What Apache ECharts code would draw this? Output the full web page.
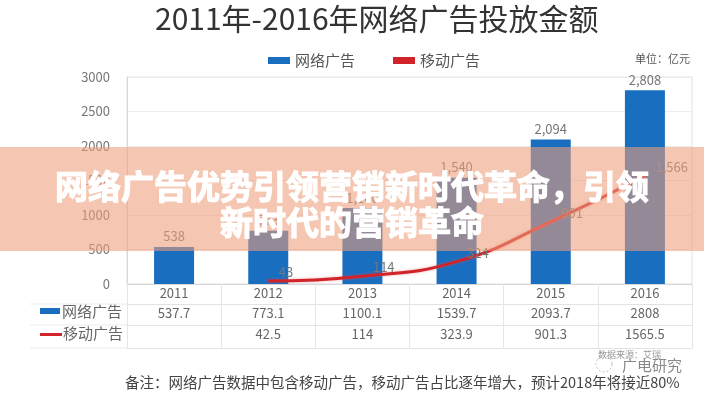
<!DOCTYPE html>
<html><head><meta charset="utf-8">
<script src="https://cdn.jsdelivr.net/npm/echarts@6/dist/echarts.min.js"></script>
<style>html,body{margin:0;padding:0;background:#fff}#c{width:704px;height:400px}</style>
</head><body><div id="c"></div>
<script>
var years = ['2011','2012','2013','2014','2015','2016'];
var webAd = [537.7, 773.1, 1100.1, 1539.7, 2093.7, 2808];
var mobileAd = [null, 42.5, 114, 323.9, 901.3, 1565.5];
var yTicks = [0, 500, 1000, 1500, 2000, 2500, 3000];
var FONT = '"Noto Sans CJK SC", "Noto Sans", sans-serif';

function fmt(v){ return Math.round(v).toLocaleString('en-US'); }
function raw(v){ return v == null ? '' : String(v); }

var chart = echarts.init(document.getElementById('c'));
var tableAxisBase = {
  type: 'category', position: 'bottom', gridIndex: 0,
  axisLine: { show: true, lineStyle: { color: '#e2e2e2' } },
  axisTick: { show: false },
  axisLabel: { color: '#666', fontSize: 13, margin: 3, fontFamily: FONT }
};
chart.setOption({
  textStyle: { fontFamily: FONT },
  title: {
    text: '2011年-2016年网络广告投放金额', left: 150, top: -1,
    textStyle: { fontSize: 30, fontWeight: 'normal', color: '#333', fontFamily: FONT }
  },
  legend: {
    top: 48, left: 263, itemGap: 38, itemWidth: 22, itemHeight: 7,
    textStyle: { fontSize: 15, color: '#555', fontFamily: FONT },
    data: [
      { name: '网络广告', icon: 'rect' },
      { name: '移动广告', icon: 'rect', itemStyle: { color: '#d1232a' } }
    ]
  },
  grid: { left: 127, right: 12, top: 77, bottom: 116, show: true, borderColor: '#e0e0e0', borderWidth: 1 },
  xAxis: [
    {
      type: 'category', data: years, position: 'bottom',
      axisLine: { show: true, lineStyle: { color: '#d8d8d8' } },
      axisTick: { show: true, interval: 0, alignWithLabel: false, length: 64, lineStyle: { color: '#e6e6e6' } },
      axisLabel: { color: '#666', fontSize: 13, margin: 3, fontFamily: FONT }
    },
    Object.assign({}, tableAxisBase, { data: webAd.map(raw), offset: 20 }),
    Object.assign({}, tableAxisBase, { data: mobileAd.map(raw), offset: 41 }),
    Object.assign({}, tableAxisBase, { data: years.map(function(){return '';}), offset: 64, axisLabel: { show: false } })
  ],
  yAxis: {
    type: 'value', min: yTicks[0], max: yTicks[yTicks.length - 1], interval: 500,
    axisLine: { show: true, lineStyle: { color: '#d8d8d8' } },
    axisTick: { show: false },
    splitLine: { lineStyle: { color: '#ececec' } },
    axisLabel: { color: '#777', fontSize: 13, margin: 17, fontFamily: FONT, formatter: function(v){ return String(v); } }
  },
  series: [
    {
      name: '网络广告', type: 'bar', data: webAd, barWidth: 40, xAxisIndex: 0,
      itemStyle: { color: '#1a6ec0' },
      label: { show: true, position: 'top', distance: 4, color: '#777', fontSize: 13, formatter: function(p){ return fmt(p.value); } }
    },
    {
      name: '移动广告', type: 'line', data: mobileAd, smooth: true, xAxisIndex: 0,
      showSymbol: true, symbol: 'circle', symbolSize: 1, connectNulls: false,
      lineStyle: { color: '#d1232a', width: 3, shadowColor: 'rgba(230,90,90,0.5)', shadowBlur: 3 },
      itemStyle: { color: '#d1232a' },
      label: { show: true, position: 'right', distance: 10, offset: [0, -9], color: '#777', fontSize: 13, formatter: function(p){ return fmt(p.value); } }
    }
  ],
  graphic: [
    { type: 'text', right: 14, top: 53, style: { text: '单位：亿元', fill: '#555', font: '11px ' + FONT } },
    // table header column
    { type: 'rect', shape: { x: 40, y: 308, width: 20, height: 6 }, style: { fill: '#1a6ec0' } },
    { type: 'text', x: 62, y: 304, style: { text: '网络广告', fill: '#666', font: '15px ' + FONT } },
    { type: 'rect', shape: { x: 40, y: 333, width: 22, height: 3 }, style: { fill: '#d1232a' } },
    { type: 'text', x: 63, y: 326, style: { text: '移动广告', fill: '#666', font: '15px ' + FONT } },
    { type: 'line', shape: { x1: 30, y1: 304, x2: 127, y2: 304 }, style: { stroke: '#ececec' } },
    { type: 'line', shape: { x1: 30, y1: 325, x2: 127, y2: 325 }, style: { stroke: '#ececec' } },
    { type: 'line', shape: { x1: 30, y1: 348, x2: 127, y2: 348 }, style: { stroke: '#ececec' } },
    // footnote
    { type: 'text', x: 125, y: 375, style: { text: '备注：网络广告数据中包含移动广告，移动广告占比逐年增大，预计2018年将接近80%', fill: '#444', font: '14.5px ' + FONT } },
    // watermark
    { type: 'circle', shape: { cx: 604, cy: 364, r: 8 }, style: { fill: 'none', stroke: '#bbb', lineWidth: 1, lineDash: [2, 2] } },
    { type: 'text', x: 598, y: 350, style: { text: '数据来源：艾瑞', fill: '#999', font: '9px ' + FONT } },
    { type: 'text', x: 622, y: 358, style: { text: '广电研究', fill: '#888', font: '15px ' + FONT } },
    // overlay banner
    { type: 'rect', z: 100, shape: { x: 0, y: 147, width: 704, height: 104 }, style: { fill: 'rgba(238,156,120,0.58)' } },
    { type: 'text', z: 101, x: 352, y: 186, style: { text: '网络广告优势引领营销新时代革命，引领', fill: '#fff', stroke: '#fff', lineWidth: 1.2, font: 'bold 33px ' + FONT, align: 'center', verticalAlign: 'middle' } },
    { type: 'text', z: 101, x: 352, y: 222, style: { text: '新时代的营销革命', fill: '#fff', stroke: '#fff', lineWidth: 1.2, font: 'bold 33px ' + FONT, align: 'center', verticalAlign: 'middle' } }
  ]
});
</script></body></html>
